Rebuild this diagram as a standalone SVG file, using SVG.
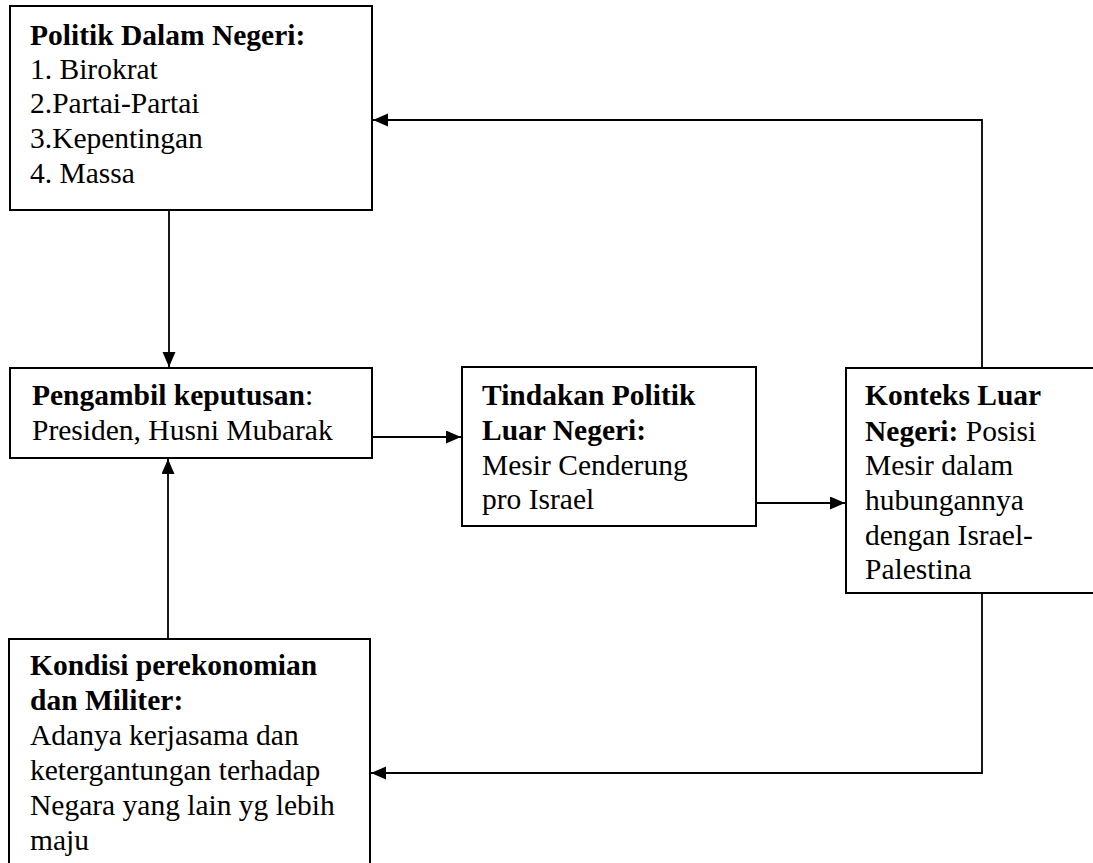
<svg xmlns="http://www.w3.org/2000/svg" width="1093" height="863" viewBox="0 0 1093 863">
<style>
.box{fill:#fff;stroke:#000;stroke-width:2}
.t{font-family:"Liberation Serif","Times New Roman",serif;font-size:29.5px;fill:#000}
.b{font-weight:bold}
.c{fill:none;stroke:#000;stroke-width:1.8}
</style>
<defs>
<marker id="ah" markerUnits="userSpaceOnUse" markerWidth="16" markerHeight="14" refX="15" refY="6.5" orient="auto">
<path d="M0,0 L15,6.5 L0,13 Z" fill="#000"/>
</marker>
</defs>
<rect width="1093" height="863" fill="#fff"/>
<g id="connectors">
<path class="c" d="M169,210 V367" marker-end="url(#ah)"/>
<path class="c" d="M372,437 H461" marker-end="url(#ah)"/>
<path class="c" d="M756,503 H845" marker-end="url(#ah)"/>
<path class="c" d="M982,368 V120 H373" marker-end="url(#ah)"/>
<path class="c" d="M982,593 V773 H371" marker-end="url(#ah)"/>
<path class="c" d="M168,639 V459" marker-end="url(#ah)"/>
</g>
<g id="politik-dalam-negeri">
<rect class="box" x="10" y="6" width="362" height="204"/>
<text class="t" x="30" y="45"><tspan class="b">Politik Dalam Negeri:</tspan><tspan x="30" y="79">1. Birokrat</tspan><tspan x="30" y="113">2.Partai-Partai</tspan><tspan x="30" y="148">3.Kepentingan</tspan><tspan x="30" y="183">4. Massa</tspan></text>
</g>
<g id="pengambil-keputusan">
<rect class="box" x="10" y="368" width="362" height="90"/>
<text class="t" x="32" y="405"><tspan class="b">Pengambil keputusan</tspan>:<tspan x="32" y="440">Presiden, Husni Mubarak</tspan></text>
</g>
<g id="tindakan-politik">
<rect class="box" x="462" y="367" width="294" height="159"/>
<text class="t" x="482" y="405"><tspan class="b">Tindakan Politik</tspan><tspan class="b" x="482" y="440">Luar Negeri:</tspan><tspan x="482" y="475">Mesir Cenderung</tspan><tspan x="482" y="509">pro Israel</tspan></text>
</g>
<g id="konteks-luar-negeri">
<rect class="box" x="846" y="368" width="260" height="225"/>
<text class="t" x="865" y="405"><tspan class="b">Konteks Luar</tspan><tspan x="865" y="441"><tspan class="b">Negeri:</tspan> Posisi</tspan><tspan x="865" y="475">Mesir dalam</tspan><tspan x="865" y="510">hubungannya</tspan><tspan x="865" y="545">dengan Israel-</tspan><tspan x="865" y="579">Palestina</tspan></text>
</g>
<g id="kondisi-perekonomian">
<rect class="box" x="9" y="639" width="361" height="240"/>
<text class="t" x="30" y="675"><tspan class="b">Kondisi perekonomian</tspan><tspan class="b" x="30" y="710">dan Militer:</tspan><tspan x="30" y="745">Adanya kerjasama dan</tspan><tspan x="30" y="780">ketergantungan terhadap</tspan><tspan x="30" y="815">Negara yang lain yg lebih</tspan><tspan x="30" y="850">maju</tspan></text>
</g>
</svg>
